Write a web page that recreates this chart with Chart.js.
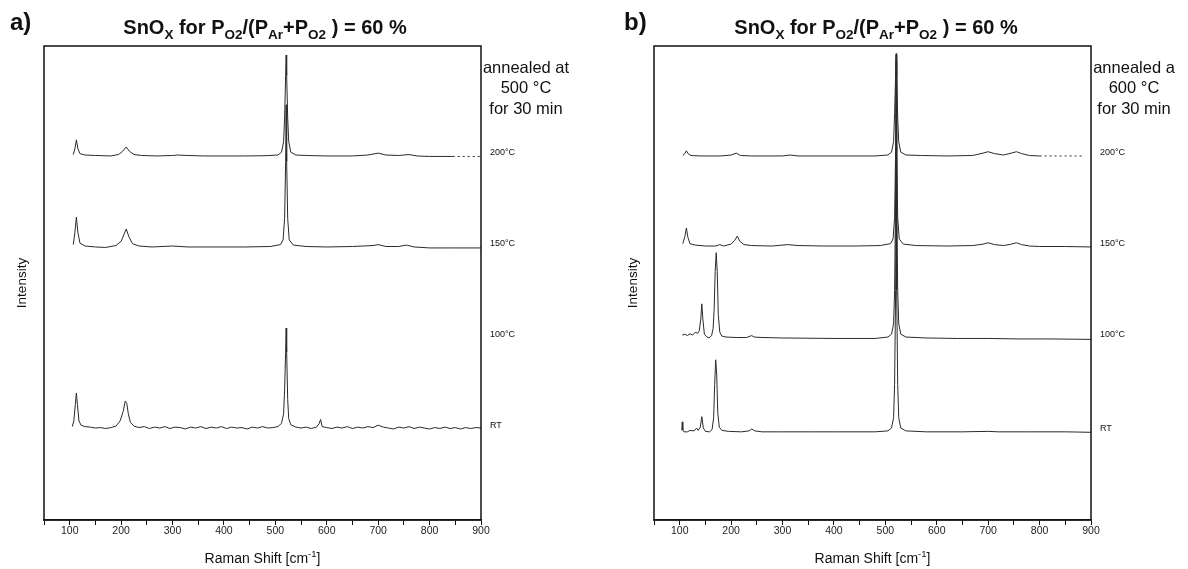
<!DOCTYPE html>
<html><head><meta charset="utf-8">
<script src="https://cdn.jsdelivr.net/npm/chart.js@4.4.1/dist/chart.umd.min.js"></script>
<style>
body{margin:0;background:#fff;}
#wrap{display:flex;width:1188px;height:569px;}
canvas{display:block}
</style>
</head><body>
<div id="wrap"><canvas id="ca" width="594" height="569"></canvas><canvas id="cb" width="594" height="569"></canvas></div>
<script>
// ---------- data (Raman shift [cm-1], relative intensity) ----------
const xTickValues = [100,200,300,400,500,600,700,800,900];
const sampleLabels = ['200°C','150°C','100°C','RT'];
const offsetsA = [76.8, 57.6, 38.4, 19.4];   // stacking offsets panel a
const offsetsB = [76.8, 57.8, 38.4, 18.6];   // stacking offsets panel b

const a200 = [[107,0.3],[110,1.5],[113,3.4],[116,1.5],[120,0.5],[130,0.2],[150,0.1],[180,0],[195,0.3],[203,1.0],[210,1.9],[216,1.0],[225,0.3],[240,0.1],[270,0],[300,0.1],[310,0.2],[330,0.1],[360,0],[400,0],[440,0],[480,0.05],[505,0.2],[512,0.8],[516,3],[518,8],[520,17],[521,21.3],[522,17],[524,8],[526,3],[530,0.8],[540,0.2],[560,0.1],[600,0],[650,0],[680,0.2],[700,0.6],[715,0.2],[740,0.1],[760,0.3],[775,0],[800,-0.1],[845,-0.1],[860,-0.1],[880,-0.1],[900,-0.1]];
const a150 = [[107,0.5],[110,3],[113,6.3],[116,3],[120,0.8],[130,0.2],[150,0],[170,-0.1],[190,0.3],[200,1.2],[205,2.5],[210,3.8],[215,2.2],[222,0.7],[235,0.2],[260,0],[300,0.2],[330,0],[380,0],[440,0],[490,0.1],[510,0.5],[515,1.5],[518,6],[520,18],[521,30],[522,18],[524,6],[527,1.5],[535,0.4],[560,0.1],[600,0],[650,0.1],[690,0.3],[700,0.5],[715,0.1],[740,0.1],[755,0.4],[770,0],[800,-0.2],[850,-0.2],[900,-0.2]];
const aRT = [[105,0.3],[108,1.5],[111,5],[113,7.4],[115,5],[118,1.5],[122,0.6],[130,0.3],[140,0.2],[150,0],[160,0.1],[170,-0.1],[180,0.1],[190,0.4],[198,1.5],[204,3.5],[208,5.7],[211,5.2],[214,3],[218,1.2],[225,0.4],[235,0.1],[245,0.3],[255,-0.1],[265,0.2],[275,0],[285,0.3],[295,-0.1],[305,0.2],[315,0.1],[325,-0.2],[335,0.2],[345,0],[355,0.3],[365,-0.1],[375,0.2],[385,0],[395,0.3],[405,-0.1],[415,0.2],[425,0],[435,0.1],[445,-0.2],[455,0.2],[465,0],[475,0.3],[485,0],[495,0.1],[505,0.3],[512,1],[516,3],[518,8],[520,16],[521,21.1],[522,16],[524,6],[526,2],[530,0.7],[540,0.2],[550,0],[560,0.2],[570,-0.1],[580,0.2],[585,0.9],[588,1.8],[591,0.3],[600,0.1],[610,-0.1],[620,0.2],[630,0],[640,0.3],[650,-0.1],[660,0.2],[670,0],[680,0.3],[690,0.1],[700,0.6],[710,0.2],[720,0],[730,-0.2],[740,0.2],[750,0],[760,0.3],[770,-0.1],[780,0.2],[790,0],[800,-0.2],[810,0.1],[820,-0.1],[830,0.2],[840,-0.1],[850,0.1],[860,-0.2],[870,0.1],[880,-0.1],[890,0.1],[900,0]];

const b200 = [[106,0.1],[110,0.5],[113,1.1],[117,0.4],[122,0.1],[140,0],[180,0],[200,0.2],[210,0.6],[218,0.1],[240,0],[300,0],[315,0.2],[330,0],[400,0],[480,0],[505,0.2],[512,0.8],[516,3],[518,9],[520,17],[521,21.3],[522,17],[524,8],[526,3],[530,0.8],[540,0.2],[570,0.1],[620,0],[670,0.1],[690,0.6],[700,0.9],[712,0.5],[730,0.2],[745,0.6],[755,0.9],[765,0.5],[780,0.1],[800,0],[830,0],[850,0],[870,0],[885,0]];
const b150 = [[106,0.5],[110,2],[113,3.8],[116,1.8],[120,0.5],[130,0.2],[150,0],[170,0],[178,0.3],[185,0],[200,0.4],[207,1.2],[212,2.1],[217,1.0],[225,0.3],[240,0.1],[280,0],[310,0.3],[330,0.1],[380,0],[440,0],[490,0.1],[510,0.5],[515,1.5],[518,6],[520,20],[521,39],[522,20],[524,6],[527,1.5],[535,0.4],[560,0.1],[620,0],[670,0.1],[690,0.4],[700,0.7],[712,0.3],[730,0.1],[745,0.4],[755,0.7],[765,0.3],[780,0],[800,-0.1],[850,-0.1],[900,-0.2]];
const b100 = [[105,0.6],[110,0.8],[115,0.5],[120,0.9],[125,0.6],[130,1.2],[135,1.0],[138,1.5],[141,4],[143,7.2],[145,4],[148,0.8],[152,0.3],[157,0.0],[162,0.5],[165,2],[167,6],[169,14],[171,18],[173,14],[175,5],[178,1.2],[182,0.4],[190,0.2],[210,0.1],[230,0.1],[240,0.5],[245,0.2],[260,0.1],[300,0],[400,-0.1],[480,-0.1],[505,0.2],[512,0.8],[516,3],[518,10],[520,30],[521,60],[522,30],[524,10],[526,3],[530,0.8],[540,0.2],[580,0],[640,-0.1],[700,-0.1],[760,-0.2],[820,-0.2],[900,-0.3]];
const bRT = [[104,0.3],[105,2.1],[106,0.4],[108,0],[115,0],[120,0.3],[128,0.2],[133,0.8],[136,0.3],[140,1],[143,3.2],[146,0.8],[150,0.1],[158,0],[163,0.5],[166,3],[168,10],[170,15.2],[172,12],[174,4],[177,1],[182,0.3],[195,0.1],[220,0],[235,0.2],[240,0.6],[246,0.2],[260,0],[300,0],[350,0],[400,0],[480,0],[505,0.2],[512,0.8],[516,3],[518,10],[520,30],[521,60],[522,30],[524,10],[526,3],[530,0.8],[540,0.2],[580,0],[650,0],[700,0.1],[720,0],[780,0],[850,0],[900,-0.1]];

const seriesA = [a200, a150, null, aRT];
const seriesB = [b200, b150, b100, bRT];
const dashFromA = 840, dashFromB = 795;
const annealA = ['annealed at','500 °C','for 30 min'];
const annealB = ['annealed a','600 °C','for 30 min'];

// ---------- helpers ----------
const FONT = '"Liberation Sans", Arial, sans-serif';
function drawRuns(ctx, runs, cx, baseY, bigFont, smallFont, subDy) {
  let total = 0;
  const w = runs.map(r => { ctx.font = r[1] ? smallFont : bigFont; const m = ctx.measureText(r[0]).width; total += m; return m; });
  let x = cx - total / 2;
  ctx.textAlign = 'left'; ctx.textBaseline = 'alphabetic';
  runs.forEach((r, i) => {
    ctx.font = r[1] ? smallFont : bigFont;
    ctx.fillText(r[0], x, baseY + (r[1] ? subDy * r[1] : 0));
    x += w[i];
  });
}

const decoPlugin = {
  id: 'deco',
  afterDraw(chart, args, o) {
    const ctx = chart.ctx, ca = chart.chartArea, ys = chart.scales.y;
    ctx.save();
    ctx.strokeStyle = '#111'; ctx.lineWidth = 1.5;
    ctx.strokeRect(ca.left, ca.top, ca.right - ca.left, ca.bottom - ca.top);
    ctx.fillStyle = '#111';
    ctx.font = 'bold 24px ' + FONT; ctx.textAlign = 'left'; ctx.textBaseline = 'alphabetic';
    ctx.fillText(o.panel, o.panelX, 30);
    drawRuns(ctx, [['SnO',0],['X',1],[' for P',0],['O2',1],['/(P',0],['Ar',1],['+P',0],['O2',1],[' ) = 60 %',0]],
      o.titleX, 34, 'bold 20px ' + FONT, 'bold 13.5px ' + FONT, 5);
    drawRuns(ctx, [['Raman Shift [cm',0],['-1',1],[']',0]], (ca.left + ca.right) / 2, 563, '14px ' + FONT, '9.5px ' + FONT, -6);
    ctx.save(); ctx.translate(o.intensityX, (ca.top + ca.bottom) / 2); ctx.rotate(-Math.PI / 2);
    ctx.font = '13.5px ' + FONT; ctx.textAlign = 'center'; ctx.textBaseline = 'middle';
    ctx.fillText('Intensity', 0, 0); ctx.restore();
    ctx.font = '16.5px ' + FONT; ctx.textAlign = 'center'; ctx.textBaseline = 'middle';
    o.anneal.forEach((t, i) => ctx.fillText(t, o.annealX, 68 + i * 20.5));
    ctx.font = '9px ' + FONT; ctx.textAlign = 'left';
    o.labels.forEach((t, i) => ctx.fillText(t, ca.right + 9, ys.getPixelForValue(o.offsets[i]) - 3));
    ctx.restore();
  }
};

function makeChart(id, series, offsets, dashFrom, opts) {
  const datasets = [];
  series.forEach((s, i) => {
    if (!s) return;
    datasets.push({
      label: sampleLabels[i],
      data: s.map(p => ({x: p[0], y: p[1] + offsets[i]})),
      borderColor: '#2a2a2a', borderWidth: 1, pointRadius: 0, tension: 0,
      segment: i === 0 ? { borderDash: c => c.p0.parsed.x >= dashFrom ? [2, 3] : undefined } : undefined
    });
  });
  return new Chart(document.getElementById(id), {
    type: 'line',
    data: { datasets },
    options: {
      responsive: false, animation: false, events: [],
      layout: { padding: { left: opts.left, right: 594 - opts.right, top: 46, bottom: 0 } },
      plugins: { legend: { display: false }, tooltip: { enabled: false },
        deco: Object.assign({ labels: sampleLabels, offsets }, opts) },
      scales: {
        x: { type: 'linear', min: 50, max: 900,
          afterBuildTicks: s => { s.ticks = []; for (let v = 50; v <= 900; v += 50) s.ticks.push({ value: v }); },
          afterFit: s => { s.height = 49; },
          grid: { drawOnChartArea: false, tickLength: 5, color: '#111', tickWidth: 1 },
          border: { display: true, color: '#111', width: 1.5 },
          ticks: { maxRotation: 0, autoSkip: false, padding: 0, color: '#222', font: { family: FONT, size: 10.5 },
            callback: v => xTickValues.includes(v) ? String(v) : '' } },
        y: { display: false, min: 0, max: 100 }
      }
    },
    plugins: [decoPlugin]
  });
}

makeChart('ca', seriesA, offsetsA, dashFromA, { left: 44, right: 481, panel: 'a)', panelX: 10, titleX: 265, intensityX: 22, anneal: annealA, annealX: 526 });
makeChart('cb', seriesB, offsetsB, dashFromB, { left: 60, right: 497, panel: 'b)', panelX: 30, titleX: 282, intensityX: 39, anneal: annealB, annealX: 540 });
</script>
</body></html>
